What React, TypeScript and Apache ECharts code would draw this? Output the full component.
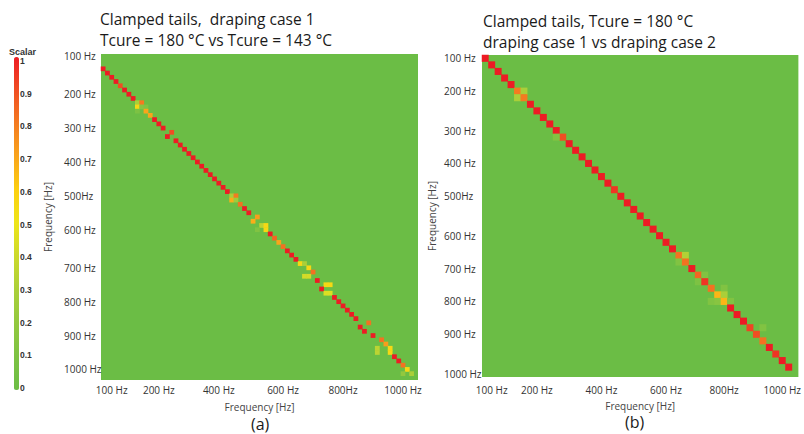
import React, { useEffect, useRef } from "react";
import * as echarts from "echarts";

// ---- Data ----
const yTickLabels = ["100 Hz", "200 Hz", "300 Hz", "400 Hz", "500Hz", "600 Hz", "700 Hz", "800 Hz", "900 Hz", "1000 Hz"];
const xTickLabels = ["100 Hz", "200 Hz", "400 Hz", "600 Hz", "800Hz", "1000 Hz"];

// panel (a): mode grid 74 x 77
const aColsCount = 74;
const aRowsCount = 77;
const aXTickModes = [2, 13, 27, 42, 56, 70];
const aYTickModes = [0, 9, 17, 25, 33, 41, 50, 58, 66, 74];
const aCells: [number, number, number][] = [
  [0, 3, 1], [1, 4, 1], [2, 5, 1], [3, 6, 1], [4, 7, 0.9], [5, 8, 1], [6, 9, 1], [7, 10, 1],
  [8, 11, 0.3], [9, 11, 0.8], [8, 12, 0.56], [9, 12, 0.15], [10, 12, 0.12], [8, 13, 0.1],
  [10, 13, 0.7], [11, 14, 0.7], [12, 15, 1], [13, 16, 1], [14, 17, 1], [16, 18, 0.9], [15, 19, 1],
  [17, 20, 1], [18, 21, 1], [19, 22, 1], [20, 23, 1], [21, 24, 1], [22, 25, 1], [23, 26, 1],
  [24, 27, 1], [25, 28, 1], [26, 29, 1], [27, 30, 1], [28, 31, 1], [29, 32, 1],
  [30, 33, 0.3], [31, 33, 0.8], [30, 34, 0.68], [31, 34, 0.25],
  [32, 35, 0.82], [33, 36, 1], [34, 37, 1], [36, 38, 0.72], [35, 39, 0.68],
  [37, 40, 0.35], [38, 40, 0.56], [38, 41, 0.56], [36, 41, 0.12],
  [39, 42, 1], [40, 43, 0.85], [41, 44, 0.7], [42, 45, 0.82], [43, 46, 1], [44, 47, 1], [45, 48, 1],
  [46, 49, 0.56], [47, 49, 0.3], [48, 50, 0.56], [49, 51, 0.82], [47, 52, 0.42], [48, 52, 0.42],
  [50, 53, 1], [52, 54, 0.56], [53, 54, 0.56], [51, 55, 1], [52, 56, 0.45], [53, 56, 0.45],
  [54, 57, 1], [55, 58, 1], [56, 59, 1], [57, 60, 1], [58, 61, 1], [59, 62, 1], [62, 63, 0.82],
  [60, 64, 1], [61, 65, 1], [63, 66, 1], [65, 67, 0.82], [66, 68, 0.72],
  [64, 69, 0.35], [64, 70, 0.35], [67, 69, 0.56], [67, 70, 0.56], [68, 71, 1], [69, 72, 1],
  [70, 73, 0.82], [71, 74, 0.56], [70, 75, 0.2], [72, 75, 0.3],
];

// panel (b): mode grid 49 x 49
const bCount = 49;
const bXTickModes = [1, 8, 18, 28, 37, 46];
const bYTickModes = [0, 5, 11, 16, 21, 27, 32, 37, 42, 48];
const bCells: [number, number, number][] = [
  [0, 0, 1], [1, 1, 1], [2, 2, 1], [3, 3, 1], [4, 4, 1],
  [5, 5, 0.8], [6, 5, 0.3], [5, 6, 0.3], [6, 6, 0.8],
  [7, 7, 1], [8, 8, 1], [9, 9, 1], [10, 10, 1], [11, 11, 1], [12, 12, 0.9], [11, 12, 0.12],
  [13, 13, 1], [14, 14, 1], [15, 15, 1], [16, 16, 1], [17, 17, 1], [18, 18, 1], [19, 19, 1],
  [20, 20, 0.95], [21, 21, 1], [22, 22, 1], [23, 23, 1], [24, 24, 1], [25, 25, 1], [26, 26, 1],
  [27, 27, 1], [28, 28, 1], [29, 29, 1],
  [30, 30, 0.82], [31, 30, 0.32], [30, 31, 0.12], [31, 31, 0.82], [32, 32, 1],
  [33, 33, 0.85], [34, 33, 0.12], [33, 34, 0.1], [34, 34, 0.95],
  [35, 35, 0.82], [37, 35, 0.12], [36, 36, 0.66], [37, 36, 0.3],
  [35, 37, 0.12], [36, 37, 0.15], [37, 37, 0.66], [38, 37, 0.12],
  [38, 38, 1], [39, 39, 1], [40, 40, 1], [41, 41, 0.92], [43, 41, 0.12], [42, 42, 0.9],
  [43, 43, 0.82], [44, 44, 1], [45, 45, 0.95], [46, 46, 1], [47, 47, 1],
];

const scaleColors = [
  "#6bbd45", "#7dc243", "#92c83e", "#aacf39", "#cbd92c", "#ede51a",
  "#fcd010", "#f9a51b", "#f47b20", "#f04e23", "#ed1c24",
];

const FONT = "Open Sans";
const GREEN = "#6bbd45";

function cats(n: number) {
  return Array.from({ length: n }, (_, i) => String(i));
}

function tickAxisLabel(modes: number[], labels: string[], extra: any) {
  return {
    show: true,
    interval: (idx: number) => modes.includes(idx),
    formatter: (_v: string, idx: number) => {
      const p = modes.indexOf(idx);
      return p >= 0 ? labels[p] : "";
    },
    fontFamily: FONT,
    fontSize: 10,
    color: "#333",
    ...extra,
  };
}

export default function App() {
  const ref = useRef<HTMLDivElement>(null);
  useEffect(() => {
    if (!ref.current) return;
    const chart = echarts.init(ref.current, undefined, { renderer: "svg" });
    const titleStyle = {
      fontFamily: FONT,
      fontSize: 15.5,
      fontWeight: "normal" as const,
      color: "#1a1a1a",
      lineHeight: 21.5,
    };
    const capStyle = { fontFamily: FONT, fontSize: 16, lineHeight: 16, fontWeight: "normal" as const, color: "#1a1a1a" };
    const nameStyle = { fontFamily: FONT, fontSize: 10, lineHeight: 11, color: "#444" };
    chart.setOption({
      animation: false,
      backgroundColor: "#ffffff",
      title: [
        { text: "Clamped tails,  draping case 1\nTcure = 180 °C vs Tcure = 143 °C", left: 100, top: 8, padding: 0, textStyle: titleStyle },
        { text: "Clamped tails, Tcure = 180 °C\ndraping case 1 vs draping case 2", left: 483, top: 10, padding: 0, textStyle: titleStyle },
        { text: "Scalar", left: 9, top: 47, padding: 0, textStyle: { fontFamily: "Liberation Sans", fontSize: 9, fontWeight: "bold", color: "#333" } },
        { text: "(a)", left: 251, top: 416, padding: 0, textStyle: capStyle },
        { text: "(b)", left: 625, top: 414, padding: 0, textStyle: capStyle },
      ],
      grid: [
        { left: 101, top: 54, width: 317, height: 326, show: true, backgroundColor: GREEN, borderWidth: 0 },
        { left: 482, top: 55, width: 317, height: 322, show: true, backgroundColor: GREEN, borderWidth: 0 },
        { left: 14, top: 61, width: 5, height: 327 },
      ],
      xAxis: [
        {
          type: "category", gridIndex: 0, data: cats(aColsCount),
          axisLine: { show: false }, axisTick: { show: false }, splitLine: { show: false },
          axisLabel: tickAxisLabel(aXTickModes, xTickLabels, { margin: 5 }),
          name: "Frequency [Hz]", nameLocation: "middle", nameGap: 21,
          nameTextStyle: nameStyle,
        },
        {
          type: "category", gridIndex: 1, data: cats(bCount),
          axisLine: { show: false }, axisTick: { show: false }, splitLine: { show: false },
          axisLabel: tickAxisLabel(bXTickModes, xTickLabels, { margin: 8 }),
          name: "Frequency [Hz]", nameLocation: "middle", nameGap: 23,
          nameTextStyle: nameStyle,
        },
        { type: "value", gridIndex: 2, show: false, min: 0, max: 1 },
      ],
      yAxis: [
        {
          type: "category", gridIndex: 0, data: cats(aRowsCount), inverse: true,
          axisLine: { show: false }, axisTick: { show: false }, splitLine: { show: false },
          axisLabel: tickAxisLabel(aYTickModes, yTickLabels, { margin: 37, align: "left" }),
          name: "Frequency [Hz]", nameLocation: "middle", nameGap: 48,
          nameTextStyle: nameStyle,
        },
        {
          type: "category", gridIndex: 1, data: cats(bCount), inverse: true,
          axisLine: { show: false }, axisTick: { show: false }, splitLine: { show: false },
          axisLabel: tickAxisLabel(bYTickModes, yTickLabels, { margin: 38, align: "left" }),
          name: "Frequency [Hz]", nameLocation: "middle", nameGap: 45,
          nameTextStyle: nameStyle,
        },
        {
          type: "value", gridIndex: 2, min: 0, max: 1, interval: 0.1, position: "right",
          axisLine: { show: false },
          axisTick: { show: true, length: 2, lineStyle: { color: "#9a9a9a", width: 1 } },
          splitLine: { show: false },
          axisLabel: { margin: 1, fontFamily: "Liberation Sans", fontSize: 8.5, fontWeight: "bold", color: "#333" },
        },
      ],
      visualMap: {
        type: "continuous", min: 0, max: 1, seriesIndex: [0, 1],
        show: true, calculable: false, hoverLink: false,
        left: 14, top: 57, itemWidth: 5, itemHeight: 333, padding: 0,
        inRange: { color: scaleColors },
      },
      series: [
        {
          type: "heatmap", xAxisIndex: 0, yAxisIndex: 0, data: aCells,
          itemStyle: { borderWidth: 0 }, emphasis: { disabled: true }, progressive: 0,
        },
        {
          type: "heatmap", xAxisIndex: 1, yAxisIndex: 1, data: bCells,
          itemStyle: { borderWidth: 0 }, emphasis: { disabled: true }, progressive: 0,
        },
      ],
    });
    return () => chart.dispose();
  }, []);
  return <div ref={ref} style={{ position: "fixed", left: 0, top: 0, width: 804, height: 434 }} />;
}
